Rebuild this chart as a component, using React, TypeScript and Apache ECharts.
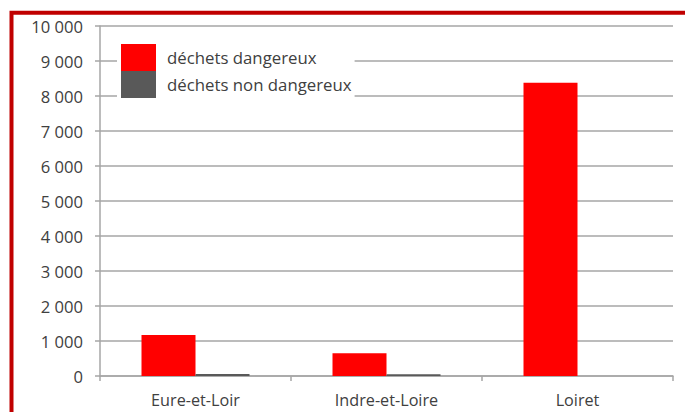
import React, { useEffect, useRef } from "react";
import * as echarts from "echarts";

const categories = ["Eure-et-Loir", "Indre-et-Loire", "Loiret"];
const dangereux = [1170, 650, 8380];
const nonDangereux = [55, 50, 0];
const seriesNames = ["déchets dangereux", "déchets non dangereux"];
const yMin = 0;
const yMax = 10000;
const yInterval = 1000;

const FONT = "Open Sans";
const TEXT = "#404040";
const GRID = "#a6a6a6";

export default function App() {
  const ref = useRef<HTMLDivElement>(null);
  useEffect(() => {
    document.body.style.margin = "0";
    const chart = echarts.init(ref.current!, null, { renderer: "svg" });
    chart.setOption({
      animation: false,
      backgroundColor: "#ffffff",
      textStyle: { fontFamily: FONT },
      grid: { left: 100, right: 12, top: 26, bottom: 36 },
      legend: {
        orient: "vertical",
        left: 117,
        top: 40,
        padding: [4, 3, 4, 4],
        itemWidth: 35,
        itemHeight: 27,
        itemGap: 0,
        icon: "rect",
        backgroundColor: "#ffffff",
        textStyle: { fontFamily: FONT, fontSize: 16.8, color: TEXT, padding: [0, 0, 0, 6] },
        data: seriesNames,
      },
      xAxis: {
        type: "category",
        data: categories,
        axisLine: { show: true, lineStyle: { color: GRID, width: 1.5 } },
        axisTick: { show: true, length: 5, lineStyle: { color: GRID, width: 1.5 } },
        axisLabel: { fontFamily: FONT, fontSize: 16.2, color: TEXT, margin: 16 },
      },
      yAxis: {
        type: "value",
        min: yMin,
        max: yMax,
        interval: yInterval,
        axisLine: { show: true, lineStyle: { color: GRID, width: 1.5 } },
        axisTick: { show: true, length: 5, lineStyle: { color: GRID, width: 1.5 } },
        splitLine: { show: true, lineStyle: { color: GRID, width: 1.5 } },
        axisLabel: {
          fontFamily: FONT,
          fontSize: 16.6,
          color: TEXT,
          margin: 17,
          formatter: (v: number) => String(v).replace(/\B(?=(\d{3})+(?!\d))/g, " "),
        },
      },
      series: [
        {
          name: seriesNames[0],
          type: "bar",
          data: dangereux,
          barWidth: 54,
          barGap: "0%",
          itemStyle: { color: "#ff0000" },
        },
        {
          name: seriesNames[1],
          type: "bar",
          data: nonDangereux,
          barWidth: 54,
          barGap: "0%",
          itemStyle: { color: "#595959" },
        },
      ],
      graphic: [
        {
          type: "polyline",
          shape: { points: [[11.5, 412], [11.5, 12.8], [685, 12.8]] },
          style: { stroke: "#c00000", lineWidth: 4, fill: "none" },
          z: 100,
        },
      ],
    });
    return () => chart.dispose();
  }, []);
  return <div ref={ref} style={{ width: 685, height: 412 }} />;
}
